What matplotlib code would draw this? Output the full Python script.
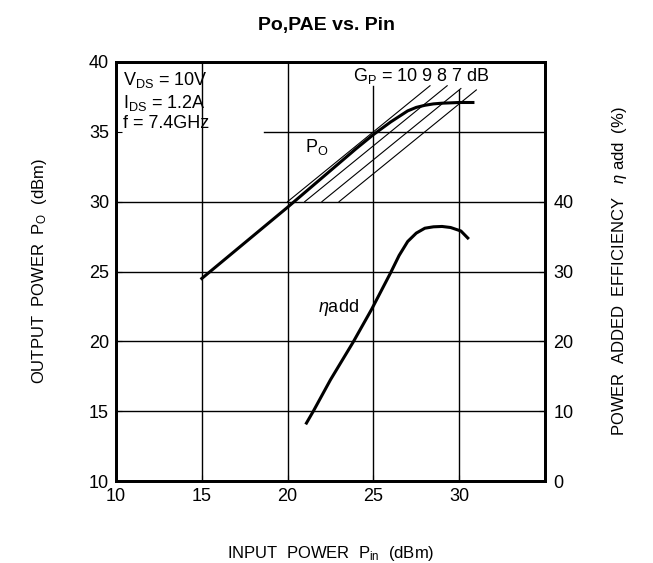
import matplotlib
matplotlib.use('Agg')
import matplotlib.pyplot as plt

plt.rcParams['font.family'] = ['Liberation Sans', 'DejaVu Sans']
plt.rcParams['mathtext.fontset'] = 'custom'
plt.rcParams['mathtext.rm'] = 'Liberation Sans'
plt.rcParams['mathtext.it'] = 'Liberation Sans:italic'

# output power curve
pin_po = [15, 20, 24, 25, 26, 26.5, 27, 27.5, 28, 28.5, 29, 30, 30.8]
po = [24.5, 29.6, 33.8, 34.8, 35.7, 36.1, 36.5, 36.75, 36.9, 37.0, 37.05, 37.1, 37.1]

# power added efficiency curve (%)
pin_eta = [21.1, 21.5, 22.5, 23.8, 24.9, 26.0, 26.5, 27.0, 27.5, 28.0, 28.5, 29.0, 29.5, 30.1, 30.5]
eta = [8.3, 10, 14.5, 19.8, 24.6, 29.8, 32.3, 34.3, 35.5, 36.2, 36.4, 36.45, 36.3, 35.8, 34.8]

# constant gain lines Gp = 10, 9, 8, 7 dB
gains = [10, 9, 8, 7]
gain_top = [38.3, 38.3, 38.1, 38.0]

fig = plt.figure(figsize=(6.53, 5.63), dpi=100)
ax = fig.add_axes([0.1776, 0.1456, 0.6570, 0.7443])
ax.set_xlim(10, 35)
ax.set_ylim(10, 40)

# grid drawn by hand (parts are hidden behind the labels)
for x in [15, 20]:
    ax.axvline(x, color='black', lw=1.0)
ax.axvline(25, ymax=(38.3 - 10) / 30, color='black', lw=1.0)
ax.axvline(30, ymax=(38.0 - 10) / 30, color='black', lw=1.0)
for y in [15, 20, 25, 30]:
    ax.axhline(y, color='black', lw=1.0)
ax.axhline(35, xmin=(18.6 - 10) / 25, color='black', lw=1.0)

for g, top in zip(gains, gain_top):
    ax.plot([30 - g, top - g], [30, top], color='black', lw=0.8)

ax.plot(pin_po, po, color='black', lw=2.2)

ax2 = ax.twinx()
ax2.set_ylim(0, 60)
ax2.plot(pin_eta, eta, color='black', lw=2.2)

ax.set_xticks([10, 15, 20, 25, 30])
ax.set_yticks([10, 15, 20, 25, 30, 35, 40])
ax2.set_yticks([0, 10, 20, 30, 40])
ax.tick_params(direction='in', length=4, labelsize=13, pad=5)
ax2.tick_params(direction='in', length=4, labelsize=13, pad=6)
for a in (ax, ax2):
    for s in a.spines.values():
        s.set_linewidth(2)

ax.text(10.4, 39.4, '$\\mathregular{V_{DS}}$ = 10V\n$\\mathregular{I_{DS}}$ = 1.2A\nf = 7.4GHz',
        fontsize=13, va='top', ha='left', linespacing=1.15)
ax.text(21.0, 33.9, '$\\mathregular{P_O}$', fontsize=13, va='center')
ax.text(21.8, 22.4, '$\\eta$add', fontsize=13, va='center')
ax.text(23.8, 39.0, '$\\mathregular{G_P}$ = 10 9 8 7 dB', fontsize=13, va='center')

ax.set_xlabel('INPUT  POWER  $\\mathregular{P_{in}}$  (dBm)', fontsize=12, labelpad=28)
ax.set_ylabel('OUTPUT  POWER  $\\mathregular{P_O}$  (dBm)', fontsize=12, labelpad=29)
ax2.set_ylabel('POWER  ADDED  EFFICIENCY   $\\eta$ add  (%)', fontsize=12, labelpad=26)

fig.suptitle('Po,PAE vs. Pin', fontsize=14, fontweight='bold', x=0.5, y=0.97)

fig.savefig('out.png', dpi=100)
